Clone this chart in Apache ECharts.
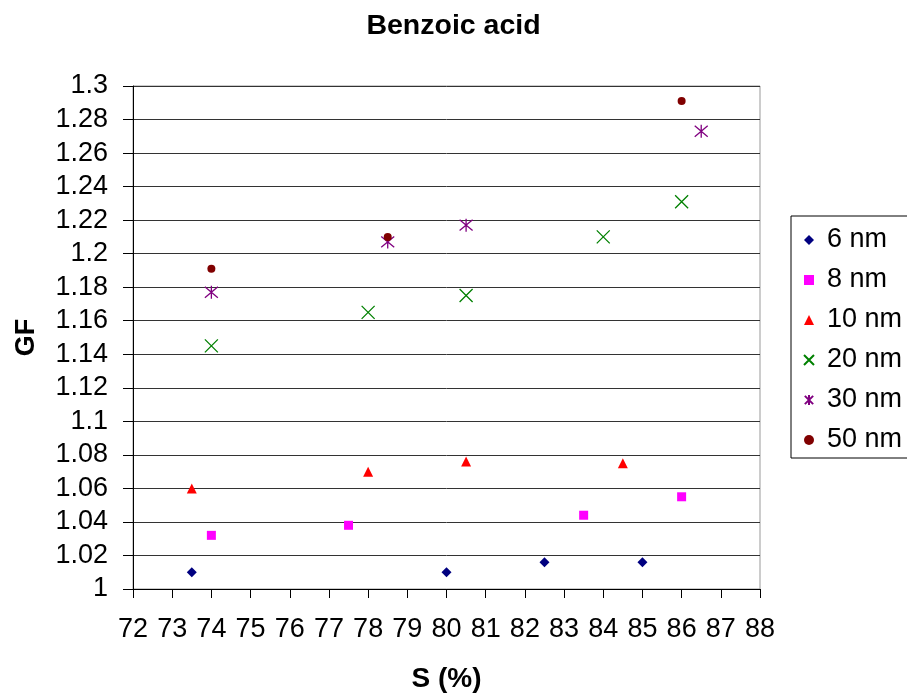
<!DOCTYPE html>
<html>
<head>
<meta charset="utf-8">
<script src="https://cdn.jsdelivr.net/npm/echarts@6/dist/echarts.min.js"></script>
<style>
  html, body { margin: 0; padding: 0; background: #fff; }
  #chart { width: 907px; height: 693px; }
</style>
</head>
<body>
<div id="chart"></div>
<script>
// values, [S (%), GF]
const nm6 = [[73.5, 1.010], [80, 1.010], [82.5, 1.016], [85, 1.016]];
const nm8 = [[74, 1.032], [77.5, 1.038], [83.5, 1.044], [86, 1.055]];
const nm10 = [[73.5, 1.060], [78, 1.070], [80.5, 1.076], [84.5, 1.075]];
const nm20 = [[74, 1.145], [78, 1.165], [80.5, 1.175], [84, 1.210], [86, 1.231]];
const nm30 = [[74, 1.177], [78.5, 1.207], [80.5, 1.217], [86.5, 1.273]];
const nm50 = [[74, 1.191], [78.5, 1.210], [86, 1.291]];

const seriesNames = ['6 nm', '8 nm', '10 nm', '20 nm', '30 nm', '50 nm'];

const FONT = 'Liberation Sans, Arial, sans-serif';

const crossPath = 'path://M0,0L10,10M10,0L0,10';
const starPath = 'path://M0,0L10,10M10,0L0,10M5,-1L5,11';

const filled = (name, data, symbol, size, color) => ({
  name: name,
  type: 'scatter',
  data: data,
  symbol: symbol,
  symbolSize: size,
  itemStyle: { color: color, opacity: 1 },
  emphasis: { disabled: true }
});

const stroked = (name, data, symbol, size, color) => ({
  name: name,
  type: 'scatter',
  data: data,
  symbol: symbol,
  symbolSize: size,
  itemStyle: { color: 'rgba(0,0,0,0)', borderColor: color, borderWidth: 1.3, opacity: 1 },
  emphasis: { disabled: true }
});

const chart = echarts.init(document.getElementById('chart'));

chart.setOption({
  animation: false,
  title: {
    text: 'Benzoic acid',
    left: 'center',
    top: 7,
    textStyle: { fontFamily: FONT, fontSize: 28.5, fontWeight: 'bold', color: '#000' }
  },
  legend: {
    orient: 'vertical',
    left: 791,
    top: 216,
    data: seriesNames,
    itemWidth: 10,
    itemHeight: 10,
    itemGap: 12,
    padding: [10, 20, 4, 12],
    borderColor: '#000',
    borderWidth: 1,
    textStyle: { fontFamily: FONT, fontSize: 27, lineHeight: 28, color: '#000', padding: [0, 0, 0, 8] }
  },
  grid: {
    left: 133,
    right: 147,
    top: 86,
    bottom: 104,
    outerBoundsMode: 'none',
    show: true,
    borderColor: '#999',
    borderWidth: 1,
    backgroundColor: '#fff'
  },
  xAxis: {
    type: 'value',
    min: 72,
    max: 88,
    interval: 1,
    name: 'S (%)',
    nameLocation: 'middle',
    nameGap: 76,
    nameTextStyle: { fontFamily: FONT, fontSize: 28, fontWeight: 'bold', color: '#000' },
    axisLine: { show: true, onZero: false, lineStyle: { color: '#000', width: 1 } },
    axisTick: { show: true, inside: false, length: 9, lineStyle: { color: '#000' } },
    axisLabel: { fontFamily: FONT, fontSize: 27, color: '#000', margin: 27 },
    splitLine: { show: false }
  },
  yAxis: {
    type: 'value',
    min: 1,
    max: 1.3,
    interval: 0.02,
    name: 'GF',
    nameLocation: 'middle',
    nameGap: 93,
    nameTextStyle: { fontFamily: FONT, fontSize: 27, fontWeight: 'bold', color: '#000' },
    axisLine: { show: true, onZero: false, lineStyle: { color: '#000', width: 1 } },
    axisTick: { show: true, inside: false, length: 10, lineStyle: { color: '#000' } },
    axisLabel: {
      fontFamily: FONT,
      fontSize: 27,
      color: '#000',
      margin: 25,
      formatter: (v) => String(+v.toFixed(2))
    },
    splitLine: { show: true, lineStyle: { color: '#333', width: 1 } }
  },
  series: [
    filled('6 nm', nm6, 'diamond', 10, '#000080'),
    filled('8 nm', nm8, 'rect', 9, '#ff00ff'),
    filled('10 nm', nm10, 'triangle', 10, '#ff0000'),
    stroked('20 nm', nm20, crossPath, 13, '#008000'),
    stroked('30 nm', nm30, starPath, 13, '#800080'),
    filled('50 nm', nm50, 'circle', 8, '#800000')
  ]
});
</script>
</body>
</html>
